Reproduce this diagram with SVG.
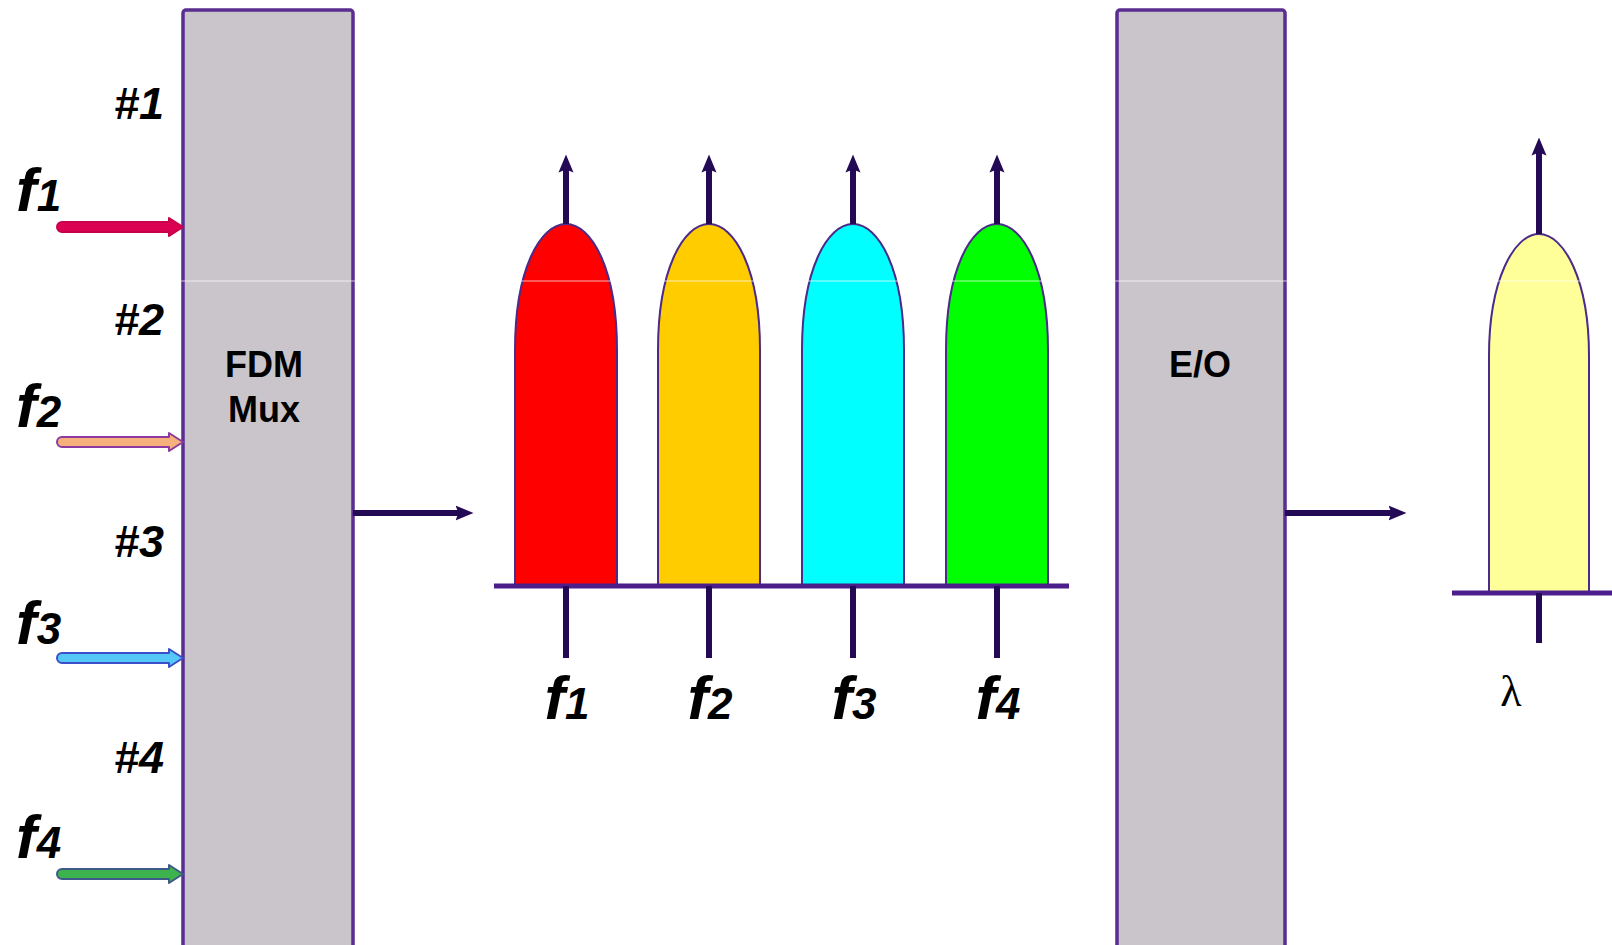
<svg xmlns="http://www.w3.org/2000/svg" width="1612" height="945" viewBox="0 0 1612 945">
  <defs>
    <marker id="head" viewBox="0 0 12 12" refX="7" refY="6" markerWidth="18" markerHeight="18" markerUnits="userSpaceOnUse" orient="auto">
      <path d="M0,1 L12,6 L0,11 L2,6 Z" fill="#240a55"/>
    </marker>
    <style>
      .box { fill: #c9c5cb; stroke: #5a2d91; stroke-width: 3.5; }
      .boxlabel { font-family: "Liberation Sans", Arial, sans-serif; font-weight: bold; font-size: 36px; fill: #000; text-anchor: middle; }
      .chan { font-family: "Liberation Sans", Arial, sans-serif; font-weight: bold; font-style: italic; font-size: 45px; fill: #000; text-anchor: end; }
      .freq { font-family: "Liberation Sans", Arial, sans-serif; font-weight: bold; font-style: italic; font-size: 62px; fill: #000; }
      .freq tspan { font-size: 44px; }
      .mid { text-anchor: middle; }
      .lambda { font-family: "Liberation Serif", "Times New Roman", serif; font-size: 44px; fill: #000; text-anchor: middle; }
      .flow { stroke: #240a55; stroke-width: 6; fill: none; }
      .axis { stroke: #4b1e8c; stroke-width: 5; fill: none; }
      .bell { stroke: #4b2a8a; stroke-width: 2; }
      .in { stroke-width: 2; stroke-linejoin: round; }
    </style>
  </defs>

  <rect width="1612" height="945" fill="#ffffff"/>

  <!-- FDM multiplexer -->
  <g id="fdm-mux">
    <rect class="box" x="183" y="10" width="170" height="945" rx="3"/>
    <text class="boxlabel" x="264" y="377">FDM</text>
    <text class="boxlabel" x="264" y="422">Mux</text>
  </g>

  <!-- E/O converter -->
  <g id="eo">
    <rect class="box" x="1117" y="10" width="168" height="945" rx="3"/>
    <text class="boxlabel" x="1200" y="377">E/O</text>
  </g>

  <!-- input channel labels -->
  <g id="inputs-labels">
    <text class="chan" x="164" y="119">#1</text>
    <text class="chan" x="164" y="335">#2</text>
    <text class="chan" x="164" y="557">#3</text>
    <text class="chan" x="164" y="773">#4</text>
    <text class="freq" x="16" y="211">f<tspan>1</tspan></text>
    <text class="freq" x="16" y="427">f<tspan>2</tspan></text>
    <text class="freq" x="16" y="644">f<tspan>3</tspan></text>
    <text class="freq" x="16" y="858">f<tspan>4</tspan></text>
  </g>

  <!-- frequency spectrum after multiplexing -->
  <g id="spectrum">
    <path class="bell" fill="#ff0000" d="M515,586 V350 C515,270 540,224 566,224 C592,224 617,270 617,350 V586 Z"/>
    <path class="bell" fill="#ffcc00" d="M658,586 V350 C658,270 683,224 709,224 C735,224 760,270 760,350 V586 Z"/>
    <path class="bell" fill="#00ffff" d="M802,586 V350 C802,270 827,224 853,224 C879,224 904,270 904,350 V586 Z"/>
    <path class="bell" fill="#00ff00" d="M946,586 V350 C946,270 971,224 997,224 C1023,224 1048,270 1048,350 V586 Z"/>
    <line class="axis" x1="494" y1="586" x2="1069" y2="586"/>
    <text class="freq mid" x="567" y="719">f<tspan>1</tspan></text>
    <text class="freq mid" x="710" y="719">f<tspan>2</tspan></text>
    <text class="freq mid" x="854" y="719">f<tspan>3</tspan></text>
    <text class="freq mid" x="998" y="719">f<tspan>4</tspan></text>
  </g>

  <!-- optical spectrum -->
  <g id="optical">
    <path class="bell" fill="#ffff99" d="M1489,593 V356 C1489,280 1514,234 1539,234 C1564,234 1589,280 1589,356 V593 Z"/>
    <line class="axis" x1="1452" y1="593" x2="1612" y2="593"/>
    <text class="lambda" x="1511" y="706">λ</text>
  </g>

  <!-- connectors -->
  <g id="connectors">
    <!-- input signals into the multiplexer -->
    <path class="in" fill="#dc0052" stroke="#c8004c" d="M62,222 H169 V218 L183,227 L169,236 V232 H62 A5,5 0 0 1 62,222 Z"/>
    <path class="in" fill="#f6b07c" stroke="#8c3aa0" d="M62,437 H169 V433 L183,442 L169,451 V447 H62 A5,5 0 0 1 62,437 Z"/>
    <path class="in" fill="#55c8f8" stroke="#3c4fc8" d="M62,653 H169 V649 L183,658 L169,667 V663 H62 A5,5 0 0 1 62,653 Z"/>
    <path class="in" fill="#3cb34c" stroke="#3f5a8a" d="M62,869 H169 V865 L183,874 L169,883 V879 H62 A5,5 0 0 1 62,869 Z"/>

    <!-- block outputs -->
    <line class="flow" x1="353" y1="513" x2="466" y2="513" marker-end="url(#head)"/>
    <line class="flow" x1="1285" y1="513" x2="1399" y2="513" marker-end="url(#head)"/>

    <!-- carrier markers -->
    <line class="flow" x1="566" y1="224" x2="566" y2="162" marker-end="url(#head)"/>
    <line class="flow" x1="709" y1="224" x2="709" y2="162" marker-end="url(#head)"/>
    <line class="flow" x1="853" y1="224" x2="853" y2="162" marker-end="url(#head)"/>
    <line class="flow" x1="997" y1="224" x2="997" y2="162" marker-end="url(#head)"/>
    <line class="flow" x1="566" y1="586" x2="566" y2="658"/>
    <line class="flow" x1="709" y1="586" x2="709" y2="658"/>
    <line class="flow" x1="853" y1="586" x2="853" y2="658"/>
    <line class="flow" x1="997" y1="586" x2="997" y2="658"/>
    <line class="flow" x1="1539" y1="234" x2="1539" y2="145" marker-end="url(#head)"/>
    <line class="flow" x1="1539" y1="593" x2="1539" y2="643"/>
  </g>

  <!-- faint scan line across the picture -->
  <line x1="0" y1="281" x2="1612" y2="281" stroke="#ffffff" stroke-width="1" opacity="0.7"/>
</svg>
